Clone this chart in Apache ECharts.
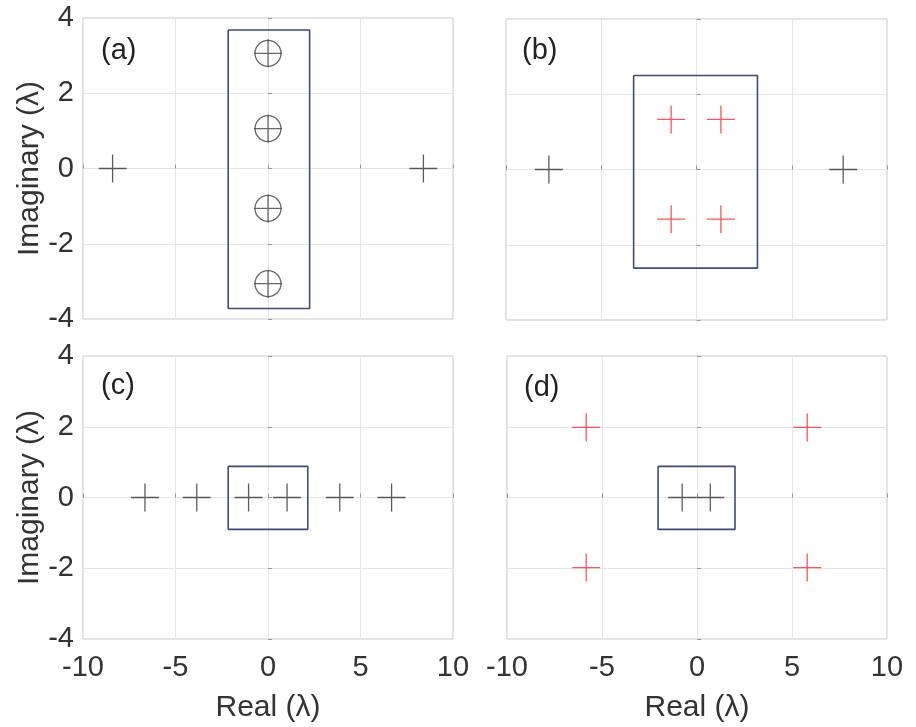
<!DOCTYPE html>
<html><head><meta charset="utf-8">
<script src="https://cdn.jsdelivr.net/npm/echarts@6/dist/echarts.min.js"></script>
<style>html,body{margin:0;padding:0;background:#fff}#c{width:916px;height:727px}</style>
</head><body><div id="c"></div>
<script>
// ---- data ----
const panelLabels = ['(a)', '(b)', '(c)', '(d)'];
const xTicks = [-10, -5, 0, 5, 10];
const yTicks = [-4, -2, 0, 2, 4];
// panel (a)
const aBlack = [[-8.4, 0], [8.4, 0]];
const aCircled = [[0, 3.06], [0, 1.06], [0, -1.06], [0, -3.06]];
const aBoxX = [-2.15, 2.25];
const aBoxY = [-3.72, 3.68];
// panel (b)
const bBlack = [[-7.75, 0], [7.7, 0]];
const bRed = [[-1.33, 1.33], [1.28, 1.33], [-1.33, -1.32], [1.28, -1.32]];
const bBoxX = [-3.3, 3.2];
const bBoxY = [-2.62, 2.5];
// panel (c)
const cBlack = [[-6.65, 0], [-3.85, 0], [-1.05, 0], [1.03, 0], [3.88, 0], [6.68, 0]];
const cBoxX = [-2.15, 2.15];
const cBoxY = [-0.9, 0.88];
// panel (d)
const dBlack = [[-0.78, 0], [0.7, 0]];
const dRed = [[-5.83, 1.98], [5.8, 1.98], [-5.83, -1.98], [5.8, -1.98]];
const dBoxX = [-2.05, 2.0];
const dBoxY = [-0.9, 0.88];

// ---- chart ----
const FONT = 'Liberation Sans, Arial, Helvetica, sans-serif';
const grids = [
  {left: 83, top: 18, width: 370, height: 301},
  {left: 506, top: 19, width: 381, height: 301},
  {left: 83, top: 356, width: 370, height: 283},
  {left: 507, top: 356, width: 380, height: 283}
];
const labelPos = [[101, 36], [522, 36], [101, 371], [524, 373]];
const PLUS = 'path://M14,0L14,28M0,14L28,14';

function boxPath(bx, by) {
  return [[bx[0], by[1]], [bx[1], by[1]], [bx[1], by[0]], [bx[0], by[0]], [bx[0], by[1]]];
}

const xAxis = grids.map((g, i) => ({
  gridIndex: i, type: 'value', min: xTicks[0], max: xTicks[xTicks.length - 1], interval: 5,
  axisLine: {show: false},
  axisTick: {show: true, inside: true, length: 4, lineStyle: {color: '#999'}},
  axisLabel: {show: i >= 2, fontSize: 29, color: '#333', fontFamily: FONT, margin: 14},
  splitLine: {show: true, lineStyle: {color: '#e6e6e6', width: 1}},
  name: i >= 2 ? 'Real (λ)' : '', nameLocation: 'middle', nameGap: 54,
  nameTextStyle: {fontSize: 30, color: '#333', fontFamily: FONT}
}));
const yAxis = grids.map((g, i) => ({
  gridIndex: i, type: 'value', min: yTicks[0], max: yTicks[yTicks.length - 1], interval: 2,
  axisLine: {show: false},
  axisTick: {show: true, inside: true, length: 4, lineStyle: {color: '#999'}},
  axisLabel: {show: i % 2 === 0, fontSize: 29, color: '#333', fontFamily: FONT, margin: 9},
  splitLine: {show: true, lineStyle: {color: '#e6e6e6', width: 1}},
  name: i % 2 === 0 ? 'Imaginary (λ)' : '', nameLocation: 'middle', nameGap: 38, nameRotate: 90,
  nameTextStyle: {fontSize: 30, color: '#333', fontFamily: FONT}
}));

function plusSeries(idx, data, color) {
  return {type: 'scatter', xAxisIndex: idx, yAxisIndex: idx, data: data, symbol: PLUS, symbolSize: 28,
    itemStyle: {color: 'none', borderColor: color, borderWidth: 1.3}, silent: true, z: 5};
}
function circleSeries(idx, data) {
  return {type: 'scatter', xAxisIndex: idx, yAxisIndex: idx, data: data, symbol: 'circle', symbolSize: 26,
    itemStyle: {color: 'none', borderColor: '#444', borderWidth: 1.3}, silent: true, z: 5};
}
function boxSeries(idx, bx, by) {
  return {type: 'line', xAxisIndex: idx, yAxisIndex: idx, data: boxPath(bx, by), showSymbol: false,
    lineStyle: {color: '#3e4a78', width: 1.6}, silent: true, z: 4, animation: false};
}

const option = {
  animation: false,
  backgroundColor: '#fff',
  grid: grids.map(g => Object.assign({show: true, borderColor: '#c4c4c4', borderWidth: 1, backgroundColor: '#fff'}, g)),
  title: panelLabels.map((t, i) => ({text: t, left: labelPos[i][0], top: labelPos[i][1], padding: 0,
    textStyle: {fontSize: 29, fontWeight: 'normal', color: '#222', fontFamily: FONT}})),
  xAxis: xAxis,
  yAxis: yAxis,
  series: [
    boxSeries(0, aBoxX, aBoxY),
    plusSeries(0, aBlack, '#333'),
    plusSeries(0, aCircled, '#444'),
    circleSeries(0, aCircled),
    boxSeries(1, bBoxX, bBoxY),
    plusSeries(1, bBlack, '#333'),
    plusSeries(1, bRed, '#ff2a2a'),
    boxSeries(2, cBoxX, cBoxY),
    plusSeries(2, cBlack, '#333'),
    boxSeries(3, dBoxX, dBoxY),
    plusSeries(3, dBlack, '#333'),
    plusSeries(3, dRed, '#ff2a2a')
  ]
};
echarts.init(document.getElementById('c'), null, {renderer: 'canvas'}).setOption(option);
</script></body></html>
